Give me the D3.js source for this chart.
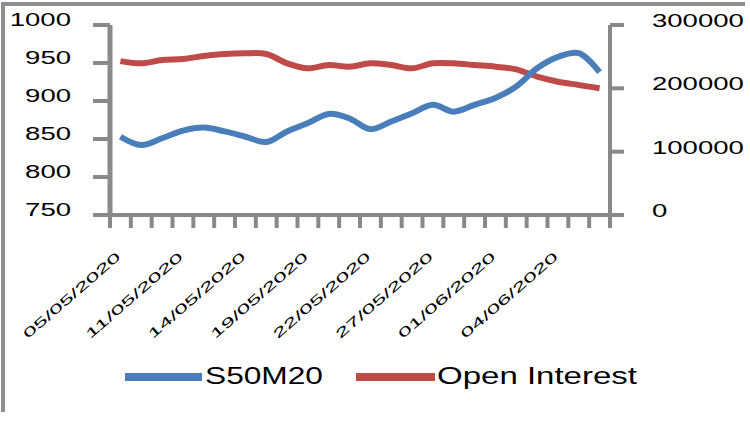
<!DOCTYPE html>
<html>
<head>
<meta charset="utf-8">
<script src="https://cdn.jsdelivr.net/npm/d3@7"></script>
<style>
  html, body { margin: 0; padding: 0; background: #fff; }
  svg { display: block; }
  text { font-family: "Liberation Sans", Arial, sans-serif; fill: #000; }
</style>
</head>
<body>
<svg id="chart" width="750" height="422"></svg>
<script>
// ---- data ----
const dates = ["05/05/2020","06/05/2020","07/05/2020","11/05/2020","12/05/2020","13/05/2020",
  "14/05/2020","15/05/2020","18/05/2020","19/05/2020","20/05/2020","21/05/2020",
  "22/05/2020","25/05/2020","26/05/2020","27/05/2020","28/05/2020","29/05/2020",
  "01/06/2020","02/06/2020","03/06/2020","04/06/2020","05/06/2020","08/06/2020"];
const s50m20 = [853, 842, 851, 861, 865, 860, 853, 846, 860, 871, 883, 877,
  863, 873, 884, 895, 886, 895, 904, 919, 943, 958, 963, 938];
const openInterest = [243000, 239500, 244700, 246300, 251000, 254200, 255300, 254200,
  239500, 231600, 236800, 234200, 239500, 236800, 231600, 239500, 239500, 236800,
  234200, 230000, 218400, 210500, 205300, 200000];
const leftTicks = [750, 800, 850, 900, 950, 1000];
const rightTicks = [0, 100000, 200000, 300000];
const seriesNames = ["S50M20", "Open Interest"];
const labelEvery = 3;

// ---- layout ----
const svg = d3.select("#chart");
const L = 110, R = 610, T = 25, B = 215;
const axisColor = "#898989";
const blue = "#4a7ebb", red = "#be4b48";
const stretch = 1.53;

// border
svg.append("rect").attr("x", 1).attr("y", 2).attr("width", 744).attr("height", 4).attr("fill", "#8e8e8e");
svg.append("rect").attr("x", 1).attr("y", 2).attr("width", 4).attr("height", 410).attr("fill", "#8e8e8e");

const x = d3.scaleBand().domain(dates).range([L, R]);
const cx = d => x(d) + x.bandwidth() / 2;
const yL = d3.scaleLinear().domain([750, 1000]).range([B, T]);
const yR = d3.scaleLinear().domain([0, 300000]).range([B, T]);

// axes lines
const ax = svg.append("g");
ax.append("line").attr("x1", L).attr("x2", L).attr("y1", T).attr("y2", B).attr("stroke", axisColor).attr("stroke-width", 5);
ax.append("line").attr("x1", R).attr("x2", R).attr("y1", T).attr("y2", B).attr("stroke", axisColor).attr("stroke-width", 4);
ax.append("line").attr("x1", L).attr("x2", R).attr("y1", B).attr("y2", B).attr("stroke", axisColor).attr("stroke-width", 4);

// left ticks
ax.selectAll(".lt").data(leftTicks).join("line")
  .attr("x1", L - 17).attr("x2", L).attr("y1", d => yL(d)).attr("y2", d => yL(d))
  .attr("stroke", axisColor).attr("stroke-width", 4);
// right ticks
ax.selectAll(".rt").data(rightTicks).join("line")
  .attr("x1", R).attr("x2", R + 14).attr("y1", d => yR(d)).attr("y2", d => yR(d))
  .attr("stroke", axisColor).attr("stroke-width", 4);
// bottom ticks at band boundaries
const bounds = dates.map(d => x(d)).concat([x.range()[1]]);
ax.selectAll(".bt").data(bounds).join("line")
  .attr("x1", d => d).attr("x2", d => d).attr("y1", B).attr("y2", B + 13)
  .attr("stroke", axisColor).attr("stroke-width", 4);

// left labels
svg.selectAll(".ll").data(leftTicks).join("text")
  .attr("transform", d => `translate(71,${yL(d) + 1}) scale(${stretch},1)`)
  .attr("text-anchor", "end")
  .attr("font-size", 18)
  .text(d => d);
// right labels
svg.selectAll(".rl").data(rightTicks).join("text")
  .attr("transform", d => `translate(652,${yR(d) + 2}) scale(${stretch},1)`)
  .attr("text-anchor", "start")
  .attr("font-size", 18)
  .text(d => d);

// x labels
svg.selectAll(".xl").data(dates.filter((d, i) => i % labelEvery === 0)).join("text")
  .attr("transform", d => `translate(${cx(d) + 1},${258}) rotate(-41)`)
  .attr("text-anchor", "end")
  .attr("font-size", 13)
  .attr("textLength", 124)
  .attr("lengthAdjust", "spacingAndGlyphs")
  .text(d => d);

// lines
const lineL = d3.line().x((v, i) => cx(dates[i])).y(v => yL(v)).curve(d3.curveCatmullRom.alpha(0.5));
const lineR = d3.line().x((v, i) => cx(dates[i])).y(v => yR(v)).curve(d3.curveCatmullRom.alpha(0.5));
svg.append("path").attr("d", lineR(openInterest)).attr("fill", "none").attr("stroke", red).attr("stroke-width", 6).attr("stroke-linejoin", "round");
svg.append("path").attr("d", lineL(s50m20)).attr("fill", "none").attr("stroke", blue).attr("stroke-width", 6).attr("stroke-linejoin", "round");

// legend
const legend = [
  { name: seriesNames[0], color: blue, x1: 125, x2: 202, tx: 205, tl: 118 },
  { name: seriesNames[1], color: red, x1: 356, x2: 435, tx: 437, tl: 200 }
];
const lg = svg.append("g").selectAll("g").data(legend).join("g");
lg.append("line").attr("x1", d => d.x1).attr("x2", d => d.x2).attr("y1", 377).attr("y2", 377)
  .attr("stroke", d => d.color).attr("stroke-width", 8);
lg.append("text").attr("x", d => d.tx).attr("y", 384).attr("font-size", 23)
  .attr("textLength", d => d.tl).attr("lengthAdjust", "spacingAndGlyphs")
  .text(d => d.name);
</script>
</body>
</html>
